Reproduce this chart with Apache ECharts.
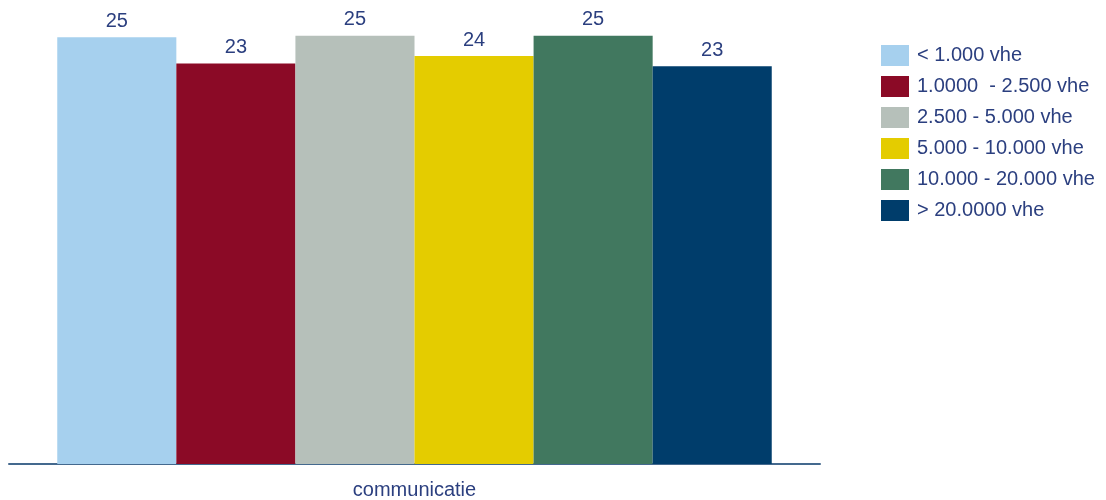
<!DOCTYPE html>
<html>
<head>
<meta charset="utf-8">
<script src="https://cdn.jsdelivr.net/npm/echarts@6/dist/echarts.min.js"></script>
<style>
html,body{margin:0;padding:0;background:#fff;}
#chart{width:1106px;height:500px;}
</style>
</head>
<body>
<div id="chart"></div>
<script>
const categories = ['communicatie'];
const seriesNames = ['< 1.000 vhe', '1.0000  - 2.500 vhe', '2.500 - 5.000 vhe', '5.000 - 10.000 vhe', '10.000 - 20.000 vhe', '> 20.0000 vhe'];
const seriesValues = [24.99, 23.46, 25.08, 23.89, 25.08, 23.29];
const seriesColors = ['#A6D0EE', '#8B0A26', '#B6C0BA', '#E4CC00', '#41785F', '#003D6B'];

const textColor = '#2B3F7F';
const chart = echarts.init(document.getElementById('chart'));
chart.setOption({
  animation: false,
  backgroundColor: '#ffffff',
  textStyle: { fontFamily: 'Liberation Sans, Arial, sans-serif' },
  grid: { left: 9, width: 811, top: 20, bottom: 36 },
  legend: {
    orient: 'vertical',
    left: 876,
    top: 40,
    itemWidth: 28,
    itemHeight: 21,
    itemGap: 10,
    icon: 'rect',
    textStyle: { color: textColor, fontSize: 20, padding: [0, 0, 0, 3] },
    data: seriesNames
  },
  xAxis: {
    type: 'category',
    data: categories,
    axisLine: { lineStyle: { color: '#44698E', width: 2 } },
    axisTick: { show: false },
    axisLabel: { color: textColor, fontSize: 20, margin: 16 }
  },
  yAxis: {
    type: 'value',
    min: 0,
    max: 26,
    show: false,
    splitLine: { show: false }
  },
  series: seriesNames.map((name, i) => ({
    name: name,
    type: 'bar',
    data: [seriesValues[i]],
    barGap: 0,
    barCategoryGap: '11.9%',
    itemStyle: { color: seriesColors[i] },
    label: {
      show: true,
      position: 'top',
      distance: 6,
      color: textColor,
      fontSize: 20,
      formatter: p => Math.round(p.value)
    }
  }))
});
</script>
</body>
</html>
